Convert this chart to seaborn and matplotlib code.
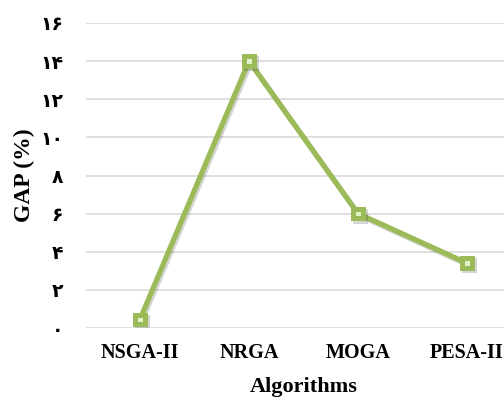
import matplotlib
matplotlib.use("Agg")
import matplotlib.pyplot as plt
import matplotlib.patheffects as pe
import seaborn as sns
import pandas as pd

algorithms = ["NSGA-II", "NRGA", "MOGA", "PESA-II"]
gap_values = [0.45, 14.0, 6.0, 3.4]
y_ticks = [0, 2, 4, 6, 8, 10, 12, 14, 16]

persian_digits = str.maketrans("0123456789", "۰۱۲۳۴۵۶۷۸۹")
y_tick_labels = [str(v).translate(persian_digits) for v in y_ticks]

df = pd.DataFrame({"Algorithm": algorithms, "GAP": gap_values})

sns.set_theme(style="white")
plt.rcParams["font.family"] = ["Liberation Serif", "DejaVu Sans"]
plt.rcParams["text.color"] = "black"
plt.rcParams["axes.labelcolor"] = "black"
plt.rcParams["xtick.color"] = "black"
plt.rcParams["ytick.color"] = "black"

fig = plt.figure(figsize=(5.04, 3.97), dpi=100)
ax = fig.add_axes([85.5 / 504, 1 - 328 / 397, 436 / 504, 305 / 397])

green = "#9BBB59"
sns.lineplot(
    data=df, x="Algorithm", y="GAP", ax=ax, sort=False,
    color=green, linewidth=3.8, marker="s", markersize=7,
    markerfacecolor="#E4F2CC", markeredgecolor=green, markeredgewidth=3.6,
    path_effects=[pe.SimpleLineShadow(offset=(1.2, -1.5), alpha=0.22, shadow_color="#404040"), pe.Normal()],
    zorder=3,
)

ax.set_xlim(-0.5, 3.5)
ax.set_ylim(0, 16)
ax.set_yticks(y_ticks)
ax.set_yticklabels(y_tick_labels, fontfamily="DejaVu Sans", fontweight="bold", fontsize=13.5)
ax.set_xticks(range(len(algorithms)))
ax.set_xticklabels(algorithms, fontweight="bold", fontsize=14.5)
ax.tick_params(axis="y", length=0, pad=16)
ax.tick_params(axis="x", length=0, pad=11)

ax.grid(axis="y", color="#D9D9D9", linewidth=1.2)
ax.set_axisbelow(True)
for s in ax.spines.values():
    s.set_visible(False)

ax.set_xlabel("Algorithms", fontweight="bold", fontsize=16, labelpad=10)
ax.set_ylabel("GAP (%)", fontweight="bold", fontsize=17, labelpad=4)

fig.savefig("out.png", dpi=100)
